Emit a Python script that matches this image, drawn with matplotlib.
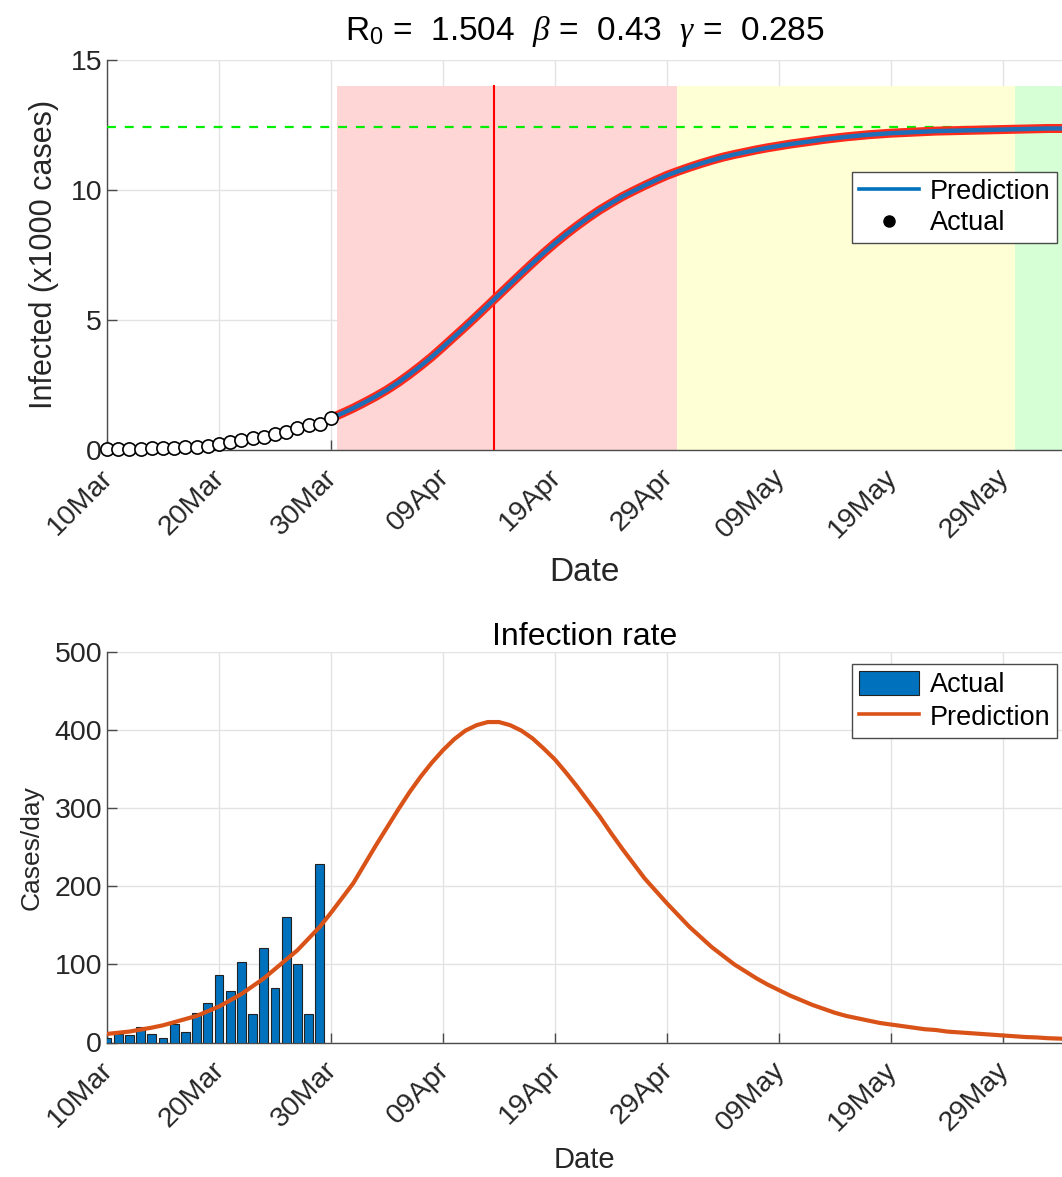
import numpy as np
import matplotlib
matplotlib.use("Agg")
import matplotlib.pyplot as plt
import matplotlib.dates as mdates
from matplotlib.lines import Line2D
from matplotlib.patches import Patch
from matplotlib.transforms import ScaledTranslation

plt.rcParams['font.family'] = ['Liberation Sans', 'DejaVu Sans']
plt.rcParams['mathtext.fontset'] = 'custom'
plt.rcParams['mathtext.rm'] = 'Liberation Sans'
plt.rcParams['mathtext.it'] = 'Liberation Serif:italic'

# ---------------- data ----------------
start_date = np.datetime64('2020-03-10')

# actual cumulative infected (x1000), days 0..20
actual_days = list(range(21))
actual_cum = [0.030, 0.036, 0.047, 0.056, 0.076, 0.087, 0.093, 0.117, 0.131, 0.169,
              0.220, 0.306, 0.372, 0.475, 0.512, 0.633, 0.703, 0.864, 0.964, 1.001, 1.229]

# actual daily cases, days 0..19
bar_days = list(range(20))
bar_cases = [6, 11, 9, 20, 11, 6, 24, 14, 38, 51, 86, 66, 103, 37, 121, 70, 161, 100, 37, 228]

# predicted cumulative infected (x1000), days 20..86
pred_days = list(range(20, 87))
pred_cum = [1.22, 1.41, 1.61, 1.83, 2.06, 2.31, 2.59, 2.90, 3.23, 3.58,
            3.96, 4.35, 4.74, 5.14, 5.55, 5.96, 6.37, 6.78, 7.18, 7.57,
            7.94, 8.29, 8.62, 8.93, 9.22, 9.48, 9.73, 9.95, 10.16, 10.36,
            10.55, 10.71, 10.86, 11.00, 11.13, 11.25, 11.35, 11.44, 11.53, 11.61,
            11.68, 11.75, 11.81, 11.87, 11.93, 11.98, 12.03, 12.07, 12.11, 12.14,
            12.17, 12.19, 12.21, 12.23, 12.25, 12.26, 12.27, 12.28, 12.29, 12.30,
            12.31, 12.32, 12.33, 12.34, 12.35, 12.35, 12.36]

# predicted infection rate (cases/day), days 0..86
rate_days = list(range(0, 87))
rate_vals = [11, 12.5, 14, 16.5, 19, 22, 26, 30, 34, 40,
             46, 54, 62, 72, 82, 94, 106, 118, 133, 148,
             166, 185, 204, 228, 252, 275, 298, 320, 340, 358,
             374, 388, 399, 406, 410, 410, 406, 399, 389, 376,
             362, 345, 327, 308, 289, 268, 248, 229, 210, 194,
             178, 163, 148, 135, 122, 111, 100, 91, 82, 74,
             67, 60, 54, 48, 43, 38, 34, 31, 28, 25,
             23, 21, 19, 17, 16, 14, 13, 12, 11, 10,
             9, 8, 7, 6.5, 5.5, 5, 4.5]

final_size = 12.42          # dashed asymptote (x1000)
peak_day = 34.55            # red vertical line
phase_days = [20.55, 50.9, 81.1, 86]   # phase boundaries
phase_top = 14
title_top = r'R$_\mathregular{0}$ =  1.504  $\beta$ =  0.43  $\gamma$ =  0.285'


def to_dates(days):
    return start_date + (np.array(days, dtype=float) * 86400).astype('timedelta64[s]')


xmin = to_dates([0])[0]
xmax = to_dates([85.27])[0]
ticks = to_dates(list(range(0, 81, 10)))

spine_c = '#4a4a4a'
text_c = '#262626'
grid_c = '#e3e3e3'

fig = plt.figure(figsize=(10.62, 11.77), dpi=100)
W, H = 1062, 1177
ax1 = fig.add_axes([107 / W, 1 - 450 / H, 955 / W, 390.5 / H])
ax2 = fig.add_axes([107 / W, 1 - 1042.5 / H, 955 / W, 390.8 / H])


def style(ax, fs):
    for s in ['top', 'right']:
        ax.spines[s].set_visible(False)
    for s in ['left', 'bottom']:
        ax.spines[s].set_color(spine_c)
        ax.spines[s].set_linewidth(1.0)
    ax.grid(True, color=grid_c, lw=1)
    ax.set_axisbelow(True)
    ax.set_xlim(xmin, xmax)
    ax.set_xticks(ticks)
    ax.xaxis.set_major_formatter(mdates.DateFormatter('%d%b'))


def finish_ticks(ax, fs):
    ax.tick_params(axis='both', direction='in', length=7, width=1, color=spine_c,
                   labelcolor=text_c, labelsize=fs)
    ax.tick_params(axis='x', pad=6)
    off = ScaledTranslation(-7 / 100, -6 / 100, fig.dpi_scale_trans)
    for lab in ax.get_xticklabels():
        lab.set_rotation(45)
        lab.set_ha('right')
        lab.set_va('top')
        lab.set_rotation_mode('anchor')
        lab.set_transform(lab.get_transform() + off)


# ---------------- top panel ----------------
style(ax1, 20.5)
pd_ = to_dates(phase_days)
ax1.fill_between([pd_[0], pd_[1]], 0, phase_top, color='#ffd6d6', lw=0, zorder=1)
ax1.fill_between([pd_[1], pd_[2]], 0, phase_top, color='#ffffd6', lw=0, zorder=1)
ax1.fill_between([pd_[2], pd_[3]], 0, phase_top, color='#d6ffd6', lw=0, zorder=1)
ax1.axhline(final_size, color='#00ee00', lw=1.6, ls=(0, (4, 4)), zorder=3)
pk = to_dates([peak_day])[0]
ax1.plot([pk, pk], [0, phase_top], color='#ff0000', lw=1.5, zorder=3)
ax1.plot(to_dates(pred_days), pred_cum, color='#ff2a1a', lw=6.5, zorder=4,
         solid_capstyle='butt')
ax1.plot(to_dates(pred_days), pred_cum, color='#1f6fb8', lw=3.2, zorder=5,
         solid_capstyle='butt')
ax1.plot(to_dates(actual_days), actual_cum, ls='none', marker='o', ms=9.5,
         mfc='white', mec='black', mew=1.2, zorder=6, clip_on=False)
ax1.set_ylim(0, 15)
ax1.set_yticks([0, 5, 10, 15])
finish_ticks(ax1, 20.5)
ax1.set_ylabel('Infected (x1000 cases)', fontsize=22, color=text_c, labelpad=8)
ax1.set_xlabel('Date', fontsize=24, color=text_c, labelpad=10)
ax1.set_title(title_top, fontsize=24, color='black', pad=14)
h1 = [Line2D([], [], color='#0072BD', lw=2.6),
      Line2D([], [], ls='none', marker='o', ms=8, mfc='black', mec='black')]
leg1 = ax1.legend(h1, ['Prediction', 'Actual'], loc='upper right',
                  bbox_to_anchor=(0.9948, 0.712), fontsize=19.5, frameon=True,
                  fancybox=False, edgecolor=spine_c, framealpha=1,
                  borderpad=0.25, labelspacing=0.2, handlelength=2.2,
                  handletextpad=0.4, borderaxespad=0)
leg1.get_frame().set_linewidth(1)
leg1.set_zorder(10)

# ---------------- bottom panel ----------------
style(ax2, 20.5)
ax2.bar(to_dates(bar_days), bar_cases, width=0.8, color='#0072BD',
        edgecolor='#222222', lw=0.8, zorder=3)
ax2.plot(to_dates(rate_days), rate_vals, color='#D95319', lw=3, zorder=4)
ax2.set_ylim(0, 500)
ax2.set_yticks(range(0, 501, 100))
finish_ticks(ax2, 20.5)
ax2.set_ylabel('Cases/day', fontsize=19, color=text_c, labelpad=8)
ax2.set_xlabel('Date', fontsize=21, color=text_c, labelpad=7)
ax2.set_title('Infection rate', fontsize=23, color='black', pad=5)
h2 = [Patch(facecolor='#0072BD', edgecolor='#222222', lw=0.8),
      Line2D([], [], color='#D95319', lw=2.6)]
leg2 = ax2.legend(h2, ['Actual', 'Prediction'], loc='upper right',
                  bbox_to_anchor=(0.9948, 0.9685), fontsize=19.5, frameon=True,
                  fancybox=False, edgecolor=spine_c, framealpha=1,
                  borderpad=0.25, labelspacing=0.2, handlelength=2.2,
                  handleheight=1.0, handletextpad=0.4, borderaxespad=0)
leg2.get_frame().set_linewidth(1)
leg2.set_zorder(10)

fig.savefig('out.png', dpi=100)
